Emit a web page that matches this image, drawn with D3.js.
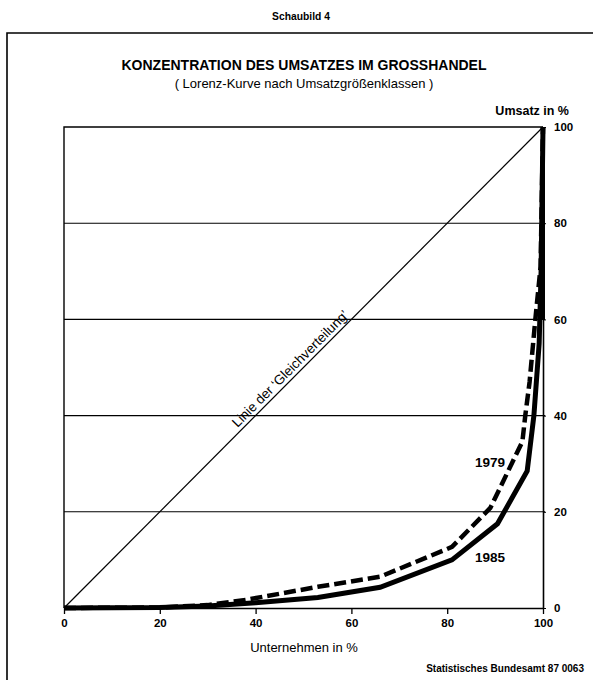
<!DOCTYPE html>
<html><head><meta charset="utf-8">
<script src="https://cdn.jsdelivr.net/npm/d3@7"></script>
<style>
html,body{margin:0;padding:0;background:#fff;}
svg{display:block;}
text{font-family:"Liberation Sans",Arial,sans-serif;fill:#000;}
</style></head>
<body>
<svg id="c" width="593" height="680"></svg>
<script>
const xTicks = [0, 20, 40, 60, 80, 100];
const yTicks = [0, 20, 40, 60, 80, 100];
const gridLevels = [20, 40, 60, 80];
const equalityLine = [[0, 0], [100, 100]];
// Lorenz curve 1985 (Unternehmen %, Umsatz %)
const curve1985X = [0, 20, 30, 40, 53, 66, 81, 90.5, 96.7, 98.1, 99.2, 99.6, 100];
const curve1985Y = [0, 0.1, 0.4, 1.1, 2.2, 4.3, 10, 17.5, 28.5, 40, 55, 70, 100];
// Lorenz curve 1979
const curve1979X = [0, 20, 30, 38, 53, 66, 81, 89, 95.7, 96.3, 97.2, 98.4, 99.5, 100];
const curve1979Y = [0, 0.1, 0.6, 1.7, 4.4, 6.5, 12.7, 20.8, 34.6, 40, 47, 60, 71, 100];
const labels = {
  head: "Schaubild 4",
  title: "KONZENTRATION DES UMSATZES IM GROSSHANDEL",
  subtitle: "( Lorenz-Kurve nach Umsatzgrößenklassen )",
  yTitle: "Umsatz in %",
  xTitle: "Unternehmen in %",
  source: "Statistisches Bundesamt 87 0063",
  diag: "Linie der \u2018Gleichverteilung\u2019",
  s1979: "1979",
  s1985: "1985"
};

const svg = d3.select("#c");
const x = d3.scaleLinear().domain([0, 100]).range([64, 543]);
const y = d3.scaleLinear().domain([0, 100]).range([608, 127]);

// outer frame (left & top)
svg.append("path").attr("d", "M7,680 L7,33 L593,33")
  .attr("fill", "none").attr("stroke", "#000").attr("stroke-width", 1.6);

// header texts
svg.append("text").attr("x", 301).attr("y", 20).attr("text-anchor", "middle")
  .attr("font-size", 10.3).attr("font-weight", "bold").text(labels.head);
svg.append("text").attr("x", 304).attr("y", 70).attr("text-anchor", "middle")
  .attr("font-size", 14).attr("font-weight", "bold").text(labels.title);
svg.append("text").attr("x", 304).attr("y", 88).attr("text-anchor", "middle")
  .attr("font-size", 13).text(labels.subtitle);
svg.append("text").attr("x", 569).attr("y", 115).attr("text-anchor", "end")
  .attr("font-size", 12.5).attr("font-weight", "bold").text(labels.yTitle);

// grid lines
svg.append("g").selectAll("line").data(gridLevels).join("line")
  .attr("x1", x(0)).attr("x2", x(100) + 2)
  .attr("y1", d => y(d)).attr("y2", d => y(d))
  .attr("stroke", "#000").attr("stroke-width", 1.1);

// box: left & top
svg.append("path")
  .attr("d", `M${x(0)},${y(0)} L${x(0)},${y(100)} L${x(100)},${y(100)}`)
  .attr("fill", "none").attr("stroke", "#000").attr("stroke-width", 1.4);

// bottom axis
const gx = svg.append("g").attr("transform", `translate(0,${y(0)})`)
  .call(d3.axisBottom(x).tickValues(xTicks).tickSize(6).tickPadding(5).tickSizeOuter(0));
gx.select(".domain").attr("stroke-width", 1.6);
gx.selectAll(".tick line").attr("stroke-width", 1.3);
gx.selectAll("text").attr("font-size", 11.5).attr("font-weight", "bold")
  .attr("font-family", "Liberation Sans, Arial, sans-serif");

// right axis
const gy = svg.append("g").attr("transform", `translate(${x(100)},0)`)
  .call(d3.axisRight(y).tickValues(yTicks).tickSize(3).tickPadding(8).tickSizeOuter(0));
gy.select(".domain").attr("stroke-width", 1.6);
gy.selectAll("text").attr("font-size", 11.5).attr("font-weight", "bold")
  .attr("font-family", "Liberation Sans, Arial, sans-serif");

// equality line
const line = d3.line().x(d => x(d[0])).y(d => y(d[1]));
svg.append("path").datum(equalityLine).attr("d", line)
  .attr("fill", "none").attr("stroke", "#000").attr("stroke-width", 1.2);
const ang = Math.atan2(y(100) - y(0), x(100) - x(0)) * 180 / Math.PI;
svg.append("text")
  .attr("transform", `translate(${x(48.5)},${y(48.5)}) rotate(${ang}) translate(0,-4)`)
  .attr("text-anchor", "middle").attr("font-size", 13.5).text(labels.diag);

// curves
const toPts = (xs, ys) => xs.map((v, i) => [v, ys[i]]);
svg.append("path").datum(toPts(curve1979X, curve1979Y)).attr("d", line)
  .attr("fill", "none").attr("stroke", "#000").attr("stroke-width", 4.5)
  .attr("stroke-dasharray", "12,5").attr("stroke-linejoin", "miter");
svg.append("path").datum(toPts(curve1985X, curve1985Y)).attr("d", line)
  .attr("fill", "none").attr("stroke", "#000").attr("stroke-width", 5)
  .attr("stroke-linejoin", "miter");

// thick right edge (curves merge with axis)
svg.append("line").attr("x1", x(100)).attr("x2", x(100))
  .attr("y1", y(100)).attr("y2", y(60)).attr("stroke", "#000").attr("stroke-width", 4);

// series labels
svg.append("text").attr("x", 490).attr("y", 467).attr("text-anchor", "middle")
  .attr("font-size", 13.5).attr("font-weight", "bold").text(labels.s1979);
svg.append("text").attr("x", 490).attr("y", 562).attr("text-anchor", "middle")
  .attr("font-size", 13.5).attr("font-weight", "bold").text(labels.s1985);

// x title and source
svg.append("text").attr("x", 304).attr("y", 652).attr("text-anchor", "middle")
  .attr("font-size", 13).text(labels.xTitle);
svg.append("text").attr("x", 584).attr("y", 672).attr("text-anchor", "end")
  .attr("font-size", 10).attr("font-weight", "bold").text(labels.source);
</script>
</body></html>
